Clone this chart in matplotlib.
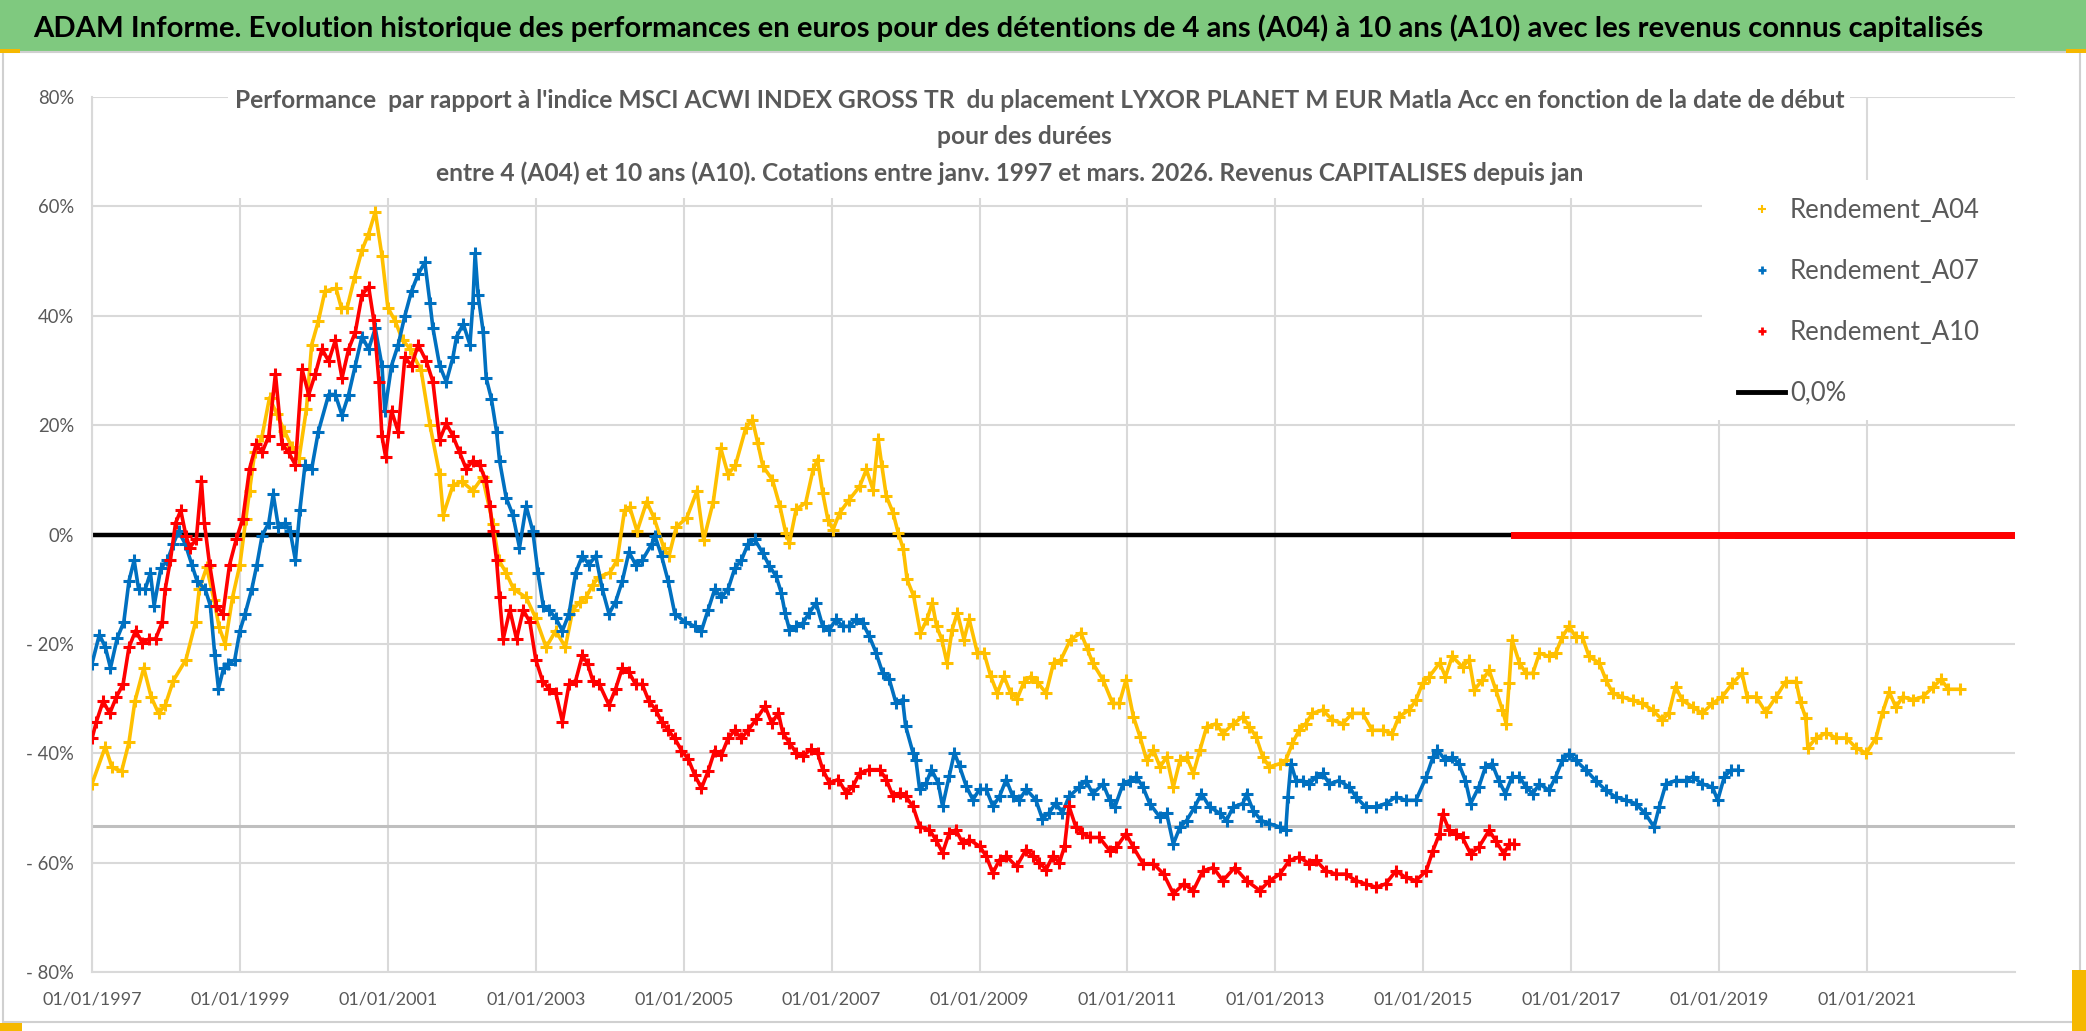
import matplotlib
matplotlib.use("Agg")
import matplotlib.pyplot as plt
from matplotlib.patches import Rectangle
from matplotlib.lines import Line2D

# ---------------------------------------------------------------------------
# Données (date de début en années décimales, % )
# ---------------------------------------------------------------------------
a04_dates = [1997.0, 1997.18, 1997.27, 1997.4, 1997.5, 1997.58, 1997.7, 1997.8, 1997.9, 1997.99,
             1998.1, 1998.27, 1998.4, 1998.45, 1998.55, 1998.65, 1998.72, 1998.8, 1998.9, 1999.0,
             1999.08, 1999.13, 1999.2, 1999.3, 1999.4, 1999.5, 1999.6, 1999.7, 1999.8, 1999.9,
             1999.97, 2000.06, 2000.15, 2000.3, 2000.37, 2000.45, 2000.55, 2000.65, 2000.74, 2000.83,
             2000.92, 2001.0, 2001.1, 2001.2, 2001.3, 2001.45, 2001.57, 2001.7, 2001.75, 2001.88,
             2002.0, 2002.15, 2002.28, 2002.42, 2002.5, 2002.6, 2002.7, 2002.87, 2003.0, 2003.14,
             2003.27, 2003.4, 2003.5, 2003.6, 2003.68, 2003.77, 2003.86, 2004.0, 2004.1, 2004.2,
             2004.27, 2004.37, 2004.5, 2004.6, 2004.73, 2004.8, 2004.9, 2005.04, 2005.18, 2005.27,
             2005.4, 2005.5, 2005.6, 2005.7, 2005.84, 2005.93, 2006.0, 2006.07, 2006.2, 2006.3,
             2006.38, 2006.43, 2006.52, 2006.65, 2006.75, 2006.81, 2006.88, 2006.95, 2007.02, 2007.11,
             2007.24, 2007.38, 2007.47, 2007.56, 2007.63, 2007.68, 2007.74, 2007.83, 2007.9, 2007.97,
             2008.02, 2008.11, 2008.2, 2008.29, 2008.36, 2008.42, 2008.49, 2008.56, 2008.63, 2008.7,
             2008.79, 2008.86, 2008.97, 2009.06, 2009.15, 2009.24, 2009.33, 2009.42, 2009.51, 2009.6,
             2009.69, 2009.78, 2009.9, 2010.0, 2010.1, 2010.23, 2010.37, 2010.46, 2010.53, 2010.67,
             2010.8, 2010.89, 2010.98, 2011.08, 2011.17, 2011.26, 2011.35, 2011.44, 2011.53, 2011.62,
             2011.71, 2011.8, 2011.89, 2011.98, 2012.07, 2012.2, 2012.29, 2012.43, 2012.56, 2012.65,
             2012.74, 2012.83, 2012.92, 2013.06, 2013.14, 2013.23, 2013.32, 2013.41, 2013.5, 2013.64,
             2013.77, 2013.91, 2014.04, 2014.18, 2014.31, 2014.45, 2014.58, 2014.67, 2014.81, 2014.9,
             2014.99, 2015.08, 2015.22, 2015.3, 2015.39, 2015.53, 2015.62, 2015.69, 2015.8, 2015.89,
             2015.98, 2016.07, 2016.12, 2016.16, 2016.2, 2016.3, 2016.39, 2016.48, 2016.57, 2016.7,
             2016.79, 2016.88, 2016.97, 2017.06, 2017.15, 2017.24, 2017.38, 2017.47, 2017.56, 2017.69,
             2017.83, 2017.96, 2018.1, 2018.23, 2018.32, 2018.41, 2018.5, 2018.64, 2018.77, 2018.91,
             2019.04, 2019.18, 2019.31, 2019.38, 2019.5, 2019.63, 2019.77, 2019.9, 2020.04, 2020.1,
             2020.17, 2020.2, 2020.31, 2020.45, 2020.58, 2020.72, 2020.85, 2020.99, 2021.12, 2021.21,
             2021.3, 2021.39, 2021.48, 2021.62, 2021.75, 2021.89, 2022.0, 2022.1, 2022.25]
a04_values = [-45.6, -38.8, -42.6, -43.3, -38.0, -30.5, -24.4, -29.7, -32.7, -31.2,
              -26.7, -22.9, -16.0, -10.0, -6.0, -12.0, -17.0, -20.0, -11.5, -5.5,
              2.9, 8.0, 15.0, 18.0, 25.0, 22.0, 19.0, 16.0, 14.0, 23.0,
              34.7, 39.0, 44.5, 45.0, 41.5, 41.5, 47.0, 52.0, 55.0, 59.0,
              51.0, 41.5, 39.0, 35.5, 34.0, 30.0, 20.0, 11.0, 3.6, 9.0,
              9.7, 8.0, 10.5, 2.0, -4.7, -7.0, -10.0, -11.5, -15.3, -20.6,
              -17.6, -20.6, -13.8, -12.3, -11.5, -9.2, -7.7, -7.0, -4.7, 4.4,
              5.0, 0.6, 6.0, 3.0, -2.4, -4.0, 1.4, 3.0, 8.0, -1.0,
              6.0, 15.8, 11.0, 12.7, 19.5, 21.0, 16.8, 12.5, 10.0, 5.2,
              0.3, -1.5, 4.6, 5.8, 11.9, 13.7, 7.6, 2.7, 0.9, 4.0,
              6.4, 8.8, 11.9, 8.2, 17.4, 12.5, 7.0, 4.0, 0.3, -2.7,
              -8.2, -11.3, -18.0, -15.5, -12.5, -16.8, -19.2, -23.5, -17.4, -14.3,
              -19.2, -15.5, -21.6, -21.6, -25.9, -29.0, -25.9, -29.0, -30.0, -27.0,
              -26.0, -27.0, -29.0, -23.5, -22.9, -19.2, -18.0, -21.0, -23.5, -26.6,
              -30.9, -30.9, -26.6, -33.3, -37.0, -41.3, -39.4, -42.5, -40.7, -46.2,
              -41.3, -40.7, -43.7, -39.4, -35.2, -34.6, -36.4, -34.6, -33.3, -35.2,
              -37.0, -40.7, -42.5, -41.9, -41.3, -38.2, -35.8, -34.6, -32.7, -32.1,
              -33.9, -34.6, -32.7, -32.7, -35.8, -35.8, -36.4, -33.3, -32.1, -30.3,
              -27.2, -26.0, -23.5, -26.0, -22.3, -24.2, -22.9, -28.4, -26.6, -24.8,
              -28.4, -32.1, -34.6, -27.2, -19.3, -23.5, -25.4, -25.4, -21.7, -22.3,
              -21.7, -18.7, -16.8, -18.7, -18.7, -22.3, -23.5, -26.6, -29.0, -29.7,
              -30.3, -30.9, -32.1, -33.9, -32.7, -27.8, -30.3, -31.5, -32.7, -30.9,
              -29.7, -27.2, -25.4, -29.7, -29.7, -32.5, -29.7, -26.9, -26.9, -30.7,
              -33.5, -39.0, -37.2, -36.3, -37.2, -37.2, -39.0, -40.0, -37.2, -32.5,
              -28.8, -31.6, -29.7, -30.2, -29.7, -27.9, -26.5, -28.3, -28.3]

a07_dates = [1997.0, 1997.1, 1997.18, 1997.25, 1997.34, 1997.43, 1997.5, 1997.57, 1997.63, 1997.72,
             1997.79, 1997.84, 1997.93, 1998.02, 1998.1, 1998.17, 1998.26, 1998.35, 1998.42, 1998.53,
             1998.6, 1998.66, 1998.71, 1998.78, 1998.84, 1998.93, 1999.0, 1999.07, 1999.16, 1999.23,
             1999.3, 1999.39, 1999.45, 1999.52, 1999.61, 1999.68, 1999.75, 1999.81, 1999.88, 1999.97,
             2000.06, 2000.2, 2000.29, 2000.38, 2000.47, 2000.56, 2000.65, 2000.74, 2000.83, 2000.92,
             2000.96, 2001.05, 2001.14, 2001.23, 2001.32, 2001.41, 2001.5, 2001.57, 2001.61, 2001.7,
             2001.79, 2001.88, 2001.93, 2002.02, 2002.11, 2002.15, 2002.18, 2002.22, 2002.29, 2002.33,
             2002.4, 2002.47, 2002.51, 2002.6, 2002.69, 2002.78, 2002.87, 2002.96, 2003.03, 2003.1,
             2003.18, 2003.27, 2003.36, 2003.45, 2003.54, 2003.63, 2003.72, 2003.81, 2003.9, 2003.99,
             2004.08, 2004.17, 2004.26, 2004.35, 2004.44, 2004.57, 2004.61, 2004.7, 2004.79, 2004.88,
             2005.02, 2005.15, 2005.24, 2005.33, 2005.42, 2005.51, 2005.6, 2005.69, 2005.78, 2005.87,
             2005.96, 2006.07, 2006.16, 2006.25, 2006.32, 2006.37, 2006.43, 2006.52, 2006.61, 2006.7,
             2006.79, 2006.88, 2006.97, 2007.06, 2007.15, 2007.24, 2007.33, 2007.42, 2007.51, 2007.6,
             2007.69, 2007.78, 2007.87, 2007.96, 2008.0, 2008.1, 2008.14, 2008.19, 2008.28, 2008.35,
             2008.44, 2008.5, 2008.59, 2008.66, 2008.73, 2008.82, 2008.91, 2009.0, 2009.09, 2009.18,
             2009.27, 2009.36, 2009.45, 2009.54, 2009.63, 2009.76, 2009.85, 2009.94, 2010.03, 2010.12,
             2010.21, 2010.35, 2010.44, 2010.53, 2010.67, 2010.76, 2010.83, 2010.94, 2011.03, 2011.12,
             2011.21, 2011.3, 2011.44, 2011.53, 2011.62, 2011.71, 2011.8, 2011.91, 2012.0, 2012.11,
             2012.25, 2012.34, 2012.43, 2012.56, 2012.61, 2012.7, 2012.81, 2012.92, 2013.06, 2013.14,
             2013.17, 2013.21, 2013.28, 2013.37, 2013.46, 2013.55, 2013.64, 2013.73, 2013.86, 2014.0,
             2014.09, 2014.22, 2014.36, 2014.49, 2014.63, 2014.76, 2014.9, 2015.04, 2015.13, 2015.19,
             2015.3, 2015.39, 2015.48, 2015.57, 2015.64, 2015.75, 2015.84, 2015.93, 2016.02, 2016.11,
             2016.2, 2016.3, 2016.39, 2016.48, 2016.57, 2016.7, 2016.79, 2016.88, 2016.97, 2017.06,
             2017.2, 2017.33, 2017.47, 2017.6, 2017.74, 2017.87, 2018.0, 2018.12, 2018.19, 2018.28,
             2018.41, 2018.55, 2018.64, 2018.77, 2018.91, 2018.98, 2019.07, 2019.16, 2019.25]
a07_values = [-23.6, -18.3, -20.6, -24.4, -19.0, -16.0, -8.5, -4.7, -10.0, -10.0,
              -7.0, -13.0, -6.2, -4.7, -1.7, 0.6, -1.7, -5.5, -8.5, -10.0,
              -13.0, -22.0, -28.2, -24.4, -23.6, -22.9, -17.6, -14.5, -10.0, -5.5,
              -0.2, 2.1, 7.4, 1.4, 2.1, 0.6, -4.7, 4.4, 12.7, 12.0,
              18.8, 25.6, 25.6, 21.8, 25.6, 30.9, 36.2, 33.9, 37.7, 30.9,
              22.6, 30.9, 34.7, 40.0, 44.5, 47.6, 49.8, 42.3, 37.7, 30.9,
              27.9, 32.4, 36.2, 38.5, 34.7, 42.3, 51.4, 43.8, 37.0, 28.6,
              24.8, 18.8, 13.5, 6.7, 3.6, -2.4, 5.2, 0.6, -7.0, -13.0,
              -13.8, -15.3, -17.6, -14.5, -7.0, -3.9, -5.5, -3.9, -10.0, -14.5,
              -12.3, -8.5, -3.2, -5.5, -4.7, -1.7, -0.2, -3.9, -8.5, -14.5,
              -16.0, -16.8, -17.6, -13.8, -10.0, -11.5, -10.0, -6.2, -4.7, -1.7,
              -0.9, -3.4, -5.8, -7.6, -10.7, -14.3, -17.4, -16.8, -16.2, -14.3,
              -12.5, -16.8, -17.4, -15.5, -16.8, -16.8, -15.5, -16.2, -18.6, -21.6,
              -25.3, -26.5, -30.8, -30.2, -35.0, -39.9, -41.2, -46.6, -45.4, -43.0,
              -45.4, -49.7, -44.2, -39.9, -42.4, -46.0, -48.5, -46.6, -46.6, -49.7,
              -47.9, -44.8, -47.9, -48.5, -46.6, -48.5, -52.0, -50.9, -49.1, -50.9,
              -47.9, -46.2, -45.0, -47.4, -45.6, -48.6, -49.8, -45.6, -45.0, -44.3,
              -46.2, -49.2, -51.7, -51.0, -56.6, -53.5, -52.3, -49.8, -47.4, -49.8,
              -51.0, -52.3, -49.8, -49.2, -47.4, -50.5, -52.3, -52.9, -53.5, -54.1,
              -48.0, -41.9, -45.0, -45.0, -45.6, -44.3, -43.7, -45.6, -45.0, -46.2,
              -48.0, -49.8, -49.8, -49.2, -48.0, -48.6, -48.6, -44.3, -40.7, -39.4,
              -41.3, -40.7, -41.9, -45.0, -49.2, -46.2, -42.5, -41.9, -45.0, -47.4,
              -44.3, -44.3, -46.2, -47.4, -45.6, -46.8, -44.3, -41.3, -40.1, -41.3,
              -43.1, -45.0, -46.8, -48.0, -48.6, -49.2, -51.0, -53.5, -49.8, -45.6,
              -45.0, -45.0, -44.3, -45.6, -46.2, -48.6, -44.3, -43.1, -43.1]

a10_dates = [1997.0, 1997.06, 1997.15, 1997.24, 1997.33, 1997.42, 1997.5, 1997.59, 1997.68, 1997.77,
             1997.86, 1997.95, 1997.99, 1998.06, 1998.13, 1998.2, 1998.27, 1998.32, 1998.41, 1998.48,
             1998.52, 1998.59, 1998.68, 1998.77, 1998.86, 1998.95, 1999.04, 1999.13, 1999.22, 1999.3,
             1999.39, 1999.48, 1999.57, 1999.66, 1999.75, 1999.84, 1999.93, 2000.02, 2000.11, 2000.2,
             2000.29, 2000.38, 2000.47, 2000.56, 2000.65, 2000.74, 2000.81, 2000.88, 2000.92, 2000.97,
             2001.05, 2001.14, 2001.23, 2001.32, 2001.41, 2001.52, 2001.61, 2001.7, 2001.79, 2001.88,
             2001.97, 2002.06, 2002.15, 2002.24, 2002.33, 2002.38, 2002.42, 2002.47, 2002.51, 2002.56,
             2002.65, 2002.74, 2002.83, 2002.92, 2003.0, 2003.09, 2003.18, 2003.27, 2003.36, 2003.45,
             2003.54, 2003.63, 2003.7, 2003.77, 2003.86, 2003.99, 2004.08, 2004.17, 2004.26, 2004.35,
             2004.44, 2004.53, 2004.62, 2004.7, 2004.79, 2004.88, 2004.97, 2005.06, 2005.15, 2005.24,
             2005.33, 2005.42, 2005.51, 2005.6, 2005.69, 2005.78, 2005.87, 2005.98, 2006.1, 2006.19,
             2006.28, 2006.34, 2006.43, 2006.52, 2006.61, 2006.72, 2006.81, 2006.88, 2006.97, 2007.09,
             2007.2, 2007.29, 2007.38, 2007.51, 2007.65, 2007.74, 2007.83, 2007.92, 2008.0, 2008.1,
             2008.19, 2008.32, 2008.41, 2008.5, 2008.59, 2008.68, 2008.77, 2008.86, 2009.0, 2009.09,
             2009.18, 2009.27, 2009.36, 2009.5, 2009.63, 2009.72, 2009.81, 2009.9, 2009.99, 2010.08,
             2010.15, 2010.21, 2010.3, 2010.39, 2010.49, 2010.62, 2010.76, 2010.85, 2010.98, 2011.08,
             2011.21, 2011.35, 2011.49, 2011.62, 2011.76, 2011.89, 2012.02, 2012.16, 2012.29, 2012.45,
             2012.61, 2012.79, 2012.92, 2013.06, 2013.19, 2013.32, 2013.46, 2013.55, 2013.68, 2013.82,
             2013.95, 2014.09, 2014.22, 2014.36, 2014.49, 2014.63, 2014.76, 2014.9, 2015.04, 2015.13,
             2015.22, 2015.26, 2015.35, 2015.44, 2015.53, 2015.64, 2015.75, 2015.89, 2015.98, 2016.09,
             2016.16, 2016.23]
a10_values = [-37.3, -34.2, -30.5, -32.7, -29.7, -27.4, -20.6, -17.6, -19.8, -19.1,
              -19.1, -16.0, -10.0, -4.7, 2.1, 4.4, -0.2, -2.4, -0.9, 9.7,
              2.1, -5.5, -13.0, -14.5, -5.5, -0.9, 2.9, 12.0, 16.5, 15.0,
              18.0, 29.4, 16.5, 15.0, 12.7, 30.2, 25.6, 29.4, 33.9, 31.7,
              35.5, 28.6, 33.9, 37.0, 43.8, 45.3, 39.2, 27.9, 18.0, 14.2,
              22.6, 18.8, 32.4, 30.9, 34.7, 31.7, 27.9, 17.3, 20.3, 18.0,
              15.0, 12.0, 13.5, 12.7, 9.7, 5.2, 0.6, -4.7, -11.5, -19.1,
              -13.8, -19.1, -13.8, -16.0, -22.9, -26.7, -28.2, -28.9, -34.2, -27.4,
              -26.7, -22.1, -23.6, -26.7, -27.4, -31.2, -28.2, -24.4, -25.2, -27.4,
              -27.4, -30.5, -32.0, -34.2, -35.8, -37.3, -39.5, -41.0, -44.0, -46.4,
              -43.3, -39.5, -40.3, -37.3, -35.8, -37.3, -35.8, -33.8, -31.4, -34.5,
              -32.6, -36.3, -38.1, -39.9, -40.5, -39.3, -39.9, -43.0, -45.4, -44.8,
              -47.3, -46.0, -43.6, -43.0, -43.0, -44.8, -47.9, -47.3, -47.9, -49.7,
              -53.4, -54.0, -55.8, -58.2, -54.6, -54.0, -56.4, -55.8, -57.0, -58.8,
              -61.9, -59.5, -58.8, -60.7, -57.6, -58.8, -60.0, -61.3, -58.8, -60.0,
              -57.0, -49.7, -53.4, -54.6, -55.4, -55.4, -57.8, -57.2, -54.7, -57.2,
              -60.2, -60.2, -62.1, -65.7, -63.9, -65.1, -61.5, -60.9, -63.3, -60.9,
              -63.3, -65.1, -63.3, -62.1, -59.6, -59.0, -60.2, -59.6, -61.5, -62.1,
              -62.1, -63.3, -63.9, -64.5, -63.9, -61.5, -62.7, -63.3, -61.5, -57.8,
              -54.7, -51.1, -54.1, -54.7, -55.4, -58.4, -57.2, -54.1, -56.0, -58.4,
              -56.6, -56.6]

# périodes sans donnée : valeur affichée à 0 jusqu'à la fin de l'axe
fin_axe = 2023.0
ligne_grise = -53.3   # seconde ligne horizontale grise
yticks = [80, 60, 40, 20, 0, -20, -40, -60, -80]
xtick_years = [1997, 1999, 2001, 2003, 2005, 2007, 2009, 2011, 2013, 2015, 2017, 2019, 2021]

titre = ("ADAM Informe. Evolution historique des performances en euros pour des détentions "
         "de 4 ans (A04) à 10 ans (A10) avec les revenus connus capitalisés")
sous_titre = ["Performance  par rapport à l'indice MSCI ACWI INDEX GROSS TR  du placement LYXOR "
              "PLANET M EUR Matla Acc en fonction de la date de début",
              "pour des durées",
              "entre 4 (A04) et 10 ans (A10). Cotations entre janv. 1997 et mars. 2026. "
              "Revenus CAPITALISES depuis jan"]
legend_labels = ["Rendement_A04", "Rendement_A07", "Rendement_A10", "0,0%"]

JAUNE, BLEU, ROUGE = "#FFC000", "#0070C0", "#FF0000"
GRIS_TXT = "#595959"
GRILLE = "#D9D9D9"

plt.rcParams['font.family'] = ['Liberation Sans Narrow', 'DejaVu Sans Condensed', 'Lato', 'DejaVu Sans']

W, H = 2086, 1031
fig = plt.figure(figsize=(W / 100, H / 100), dpi=100)
renderer = fig.canvas.get_renderer()


def taille_pour(texte, largeur_px, weight='normal'):
    """taille de police (pt) donnant la largeur voulue en pixels"""
    t = fig.text(0, 0, texte, fontsize=20, fontweight=weight)
    w = t.get_window_extent(renderer).width
    h = t.get_window_extent(renderer).height
    t.remove()
    return 20 * largeur_px / w, h * largeur_px / w


# bandeau vert
fig.patches.append(Rectangle((0, 1 - 51 / H), 1, 51 / H, transform=fig.transFigure,
                             facecolor="#7FC97F", edgecolor="none"))
fs_titre, _ = taille_pour(titre, 1949, 'bold')
fig.text(33 / W, 1 - 28 / H, titre, fontsize=fs_titre, fontweight='bold', color='black',
         ha='left', va='center')
# cadre du graphique
fig.patches.append(Rectangle((3 / W, 1 - 1022 / H), 2077 / W, 970 / H, transform=fig.transFigure,
                             facecolor="none", edgecolor="#D0D0D0", lw=1.5))

ax_l, ax_r, ax_t, ax_b = 92, 2015, 97, 972
ax = fig.add_axes([ax_l / W, 1 - ax_b / H, (ax_r - ax_l) / W, (ax_b - ax_t) / H])

fs_y, _ = taille_pour("- 40%", 48)
fs_x, _ = taille_pour("01/01/1997", 100)
ax.set_xlim(1997.0, fin_axe)
ax.set_ylim(-80, 80)
ax.set_yticks(yticks)
ax.set_yticklabels([f"{v}%" if v >= 0 else f"- {abs(v)}%" for v in yticks])
ax.set_xticks(xtick_years)
ax.set_xticklabels([f"01/01/{y}" for y in xtick_years])
ax.tick_params(axis='y', length=0, pad=13, labelsize=fs_y, labelcolor=GRIS_TXT)
ax.tick_params(axis='x', length=0, pad=14, labelsize=fs_x, labelcolor=GRIS_TXT)
ax.grid(True, color=GRILLE, lw=1.5, zorder=0)
ax.set_axisbelow(True)
for s in ['top', 'right']:
    ax.spines[s].set_visible(False)
for s in ['left', 'bottom']:
    ax.spines[s].set_color(GRILLE)
    ax.spines[s].set_linewidth(1.5)

# fonds blancs du titre et de la légende (masquent la grille)
ax.add_patch(Rectangle((0.0707, 0.8846), 0.8435, 0.13, transform=ax.transAxes,
                       facecolor='white', edgecolor='none', zorder=1, clip_on=False))
ax.add_patch(Rectangle((0.8372, 0.6309), 0.165, 0.2743, transform=ax.transAxes,
                       facecolor='white', edgecolor='none', zorder=1, clip_on=False))

# lignes horizontales
ax.plot([1997.0, fin_axe], [0, 0], color='black', lw=3.2, zorder=2)
ax.plot([1997.0, fin_axe], [ligne_grise, ligne_grise], color='#BFBFBF', lw=2.2, zorder=1.5)

# séries
for d, v, c in [(a04_dates, a04_values, JAUNE), (a07_dates, a07_values, BLEU),
                (a10_dates, a10_values, ROUGE)]:
    ax.plot(d, v, color=c, lw=2.6, zorder=3, solid_joinstyle='round')
    ax.plot(d, v, ls='none', marker='+', ms=9, mew=2.2, color=c, zorder=3)
    # au-delà des données : valeurs nulles
    ax.plot([d[-1], fin_axe], [0, 0], color=c, lw=5, zorder=3)

# sous-titre (trois lignes centrées)
fs_sous, _ = taille_pour(sous_titre[0], 1605, 'bold')
centres = [1040, 1024, 1010]
for i, ligne in enumerate(sous_titre):
    fig.text(centres[i] / W, 1 - (100 + 36.5 * i) / H, ligne, fontsize=fs_sous, fontweight='bold',
             color=GRIS_TXT, ha='center', va='center')

# légende
fs_leg, h_leg = taille_pour(legend_labels[0], 190)
fs_leg_px = fs_leg * 100 / 72
handles = [Line2D([], [], ls='none', marker='+', ms=6, mew=1.5, color=JAUNE),
           Line2D([], [], ls='none', marker='+', ms=6, mew=2, color=BLEU),
           Line2D([], [], ls='none', marker='+', ms=6, mew=2, color=ROUGE),
           Line2D([], [], color='black', lw=3.5)]
leg = ax.legend(handles, legend_labels,
                loc='upper left', bbox_to_anchor=(1738 / W, 1 - (210 - h_leg / 2) / H),
                bbox_transform=fig.transFigure, frameon=False, fontsize=fs_leg,
                handlelength=47 / fs_leg_px, handletextpad=5 / fs_leg_px,
                labelspacing=(60 - h_leg) / fs_leg_px, borderpad=0, borderaxespad=0)
for t in leg.get_texts():
    t.set_color(GRIS_TXT)

# poignées orange de sélection
for (x0, y0, w, h) in [(0, 49, 20, 4), (2066, 49, 20, 4), (0, 1023, 22, 8), (2072, 970, 14, 61)]:
    fig.patches.append(Rectangle((x0 / W, 1 - (y0 + h) / H), w / W, h / H,
                                 transform=fig.transFigure, facecolor="#F5B800", edgecolor='none'))

fig.savefig("out.png", dpi=100)
